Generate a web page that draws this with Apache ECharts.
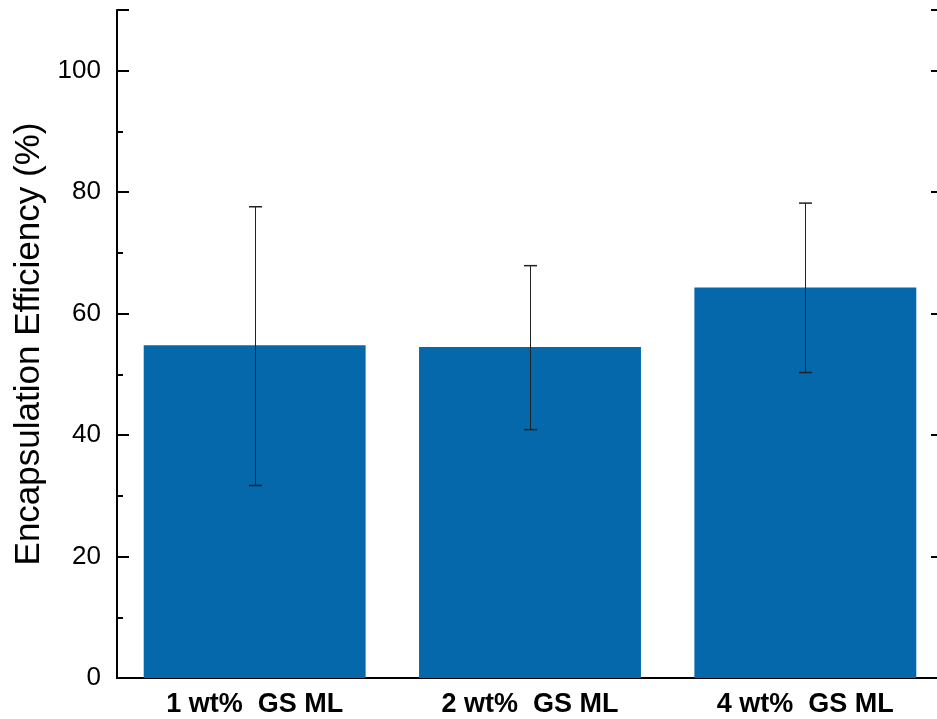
<!DOCTYPE html>
<html>
<head>
<meta charset="utf-8">
<script src="https://cdn.jsdelivr.net/npm/echarts@6/dist/echarts.min.js"></script>
<style>
html,body{margin:0;padding:0;background:#fff;overflow:hidden;}
#chart{width:937px;height:719px;}
</style>
</head>
<body>
<div id="chart"></div>
<script>
var categories = ['1 wt%  GS ML', '2 wt%  GS ML', '4 wt%  GS ML'];
var means = [54.8, 54.5, 64.3];
var errUpper = [77.6, 67.9, 78.2];
var errLower = [31.7, 40.9, 50.3];
var yTicks = [0, 20, 40, 60, 80, 100];

var chart = echarts.init(document.getElementById('chart'));
var font = 'Arial, "Liberation Sans", sans-serif';
var errData = categories.map(function (c, i) { return [i, errLower[i], errUpper[i]]; });

chart.setOption({
  animation: false,
  backgroundColor: '#fff',
  grid: { left: 117, width: 826, top: 10, height: 668, containLabel: false, outerBoundsMode: 'none' },
  xAxis: [{
    type: 'category',
    data: categories,
    position: 'bottom',
    axisLine: { show: true, lineStyle: { color: '#000', width: 2 } },
    axisTick: { show: false },
    axisLabel: { fontFamily: font, fontSize: 27, fontWeight: 'bold', color: '#000', margin: 13 }
  }, {
    type: 'category',
    data: categories,
    position: 'top',
    axisLine: { show: true, lineStyle: { color: '#000', width: 2 } },
    axisTick: { show: false },
    axisLabel: { show: false }
  }],
  yAxis: [{
    type: 'value',
    min: 0, max: 110, interval: 20,
    position: 'left',
    name: 'Encapsulation Efficiency (%)',
    nameLocation: 'middle',
    nameGap: 70,
    nameTextStyle: { fontFamily: font, fontSize: 35, color: '#000' },
    axisLine: { show: true, lineStyle: { color: '#000', width: 2 } },
    axisTick: { show: true, inside: true, length: 12, lineStyle: { color: '#000', width: 2 } },
    minorTick: { show: true, splitNumber: 2, length: 6, lineStyle: { color: '#000', width: 2 } },
    axisLabel: {
      fontFamily: font, fontSize: 26, color: '#000', margin: 16,
      formatter: function (v) { return yTicks.indexOf(v) >= 0 ? String(v) : ''; }
    },
    splitLine: { show: false }
  }, {
    type: 'value',
    min: 0, max: 110, interval: 20,
    position: 'right',
    axisLine: { show: true, lineStyle: { color: '#000', width: 2 } },
    axisTick: { show: true, inside: true, length: 12, lineStyle: { color: '#000', width: 2 } },
    minorTick: { show: true, splitNumber: 2, length: 6, lineStyle: { color: '#000', width: 2 } },
    axisLabel: { show: false },
    splitLine: { show: false }
  }],
  series: [{
    type: 'bar',
    data: means,
    barWidth: '80.6%',
    itemStyle: { color: '#0468AB' },
    z: 2
  }, {
    type: 'custom',
    data: errData,
    z: 5,
    renderItem: function (params, api) {
      var x = api.value(0);
      var lo = api.coord([x, api.value(1)]);
      var hi = api.coord([x, api.value(2)]);
      var cx = Math.round(lo[0]) + 0.5;
      var hw = 6.5;
      var style = { stroke: '#222', lineWidth: 1 };
      return {
        type: 'group',
        children: [
          { type: 'line', shape: { x1: cx, y1: hi[1], x2: cx, y2: lo[1] }, style: style },
          { type: 'line', shape: { x1: cx - hw, y1: hi[1], x2: cx + hw, y2: hi[1] }, style: { stroke: '#222', lineWidth: 1.5 } },
          { type: 'line', shape: { x1: cx - hw, y1: lo[1], x2: cx + hw, y2: lo[1] }, style: { stroke: '#222', lineWidth: 1.5 } }
        ]
      };
    }
  }]
});
</script>
</body>
</html>
